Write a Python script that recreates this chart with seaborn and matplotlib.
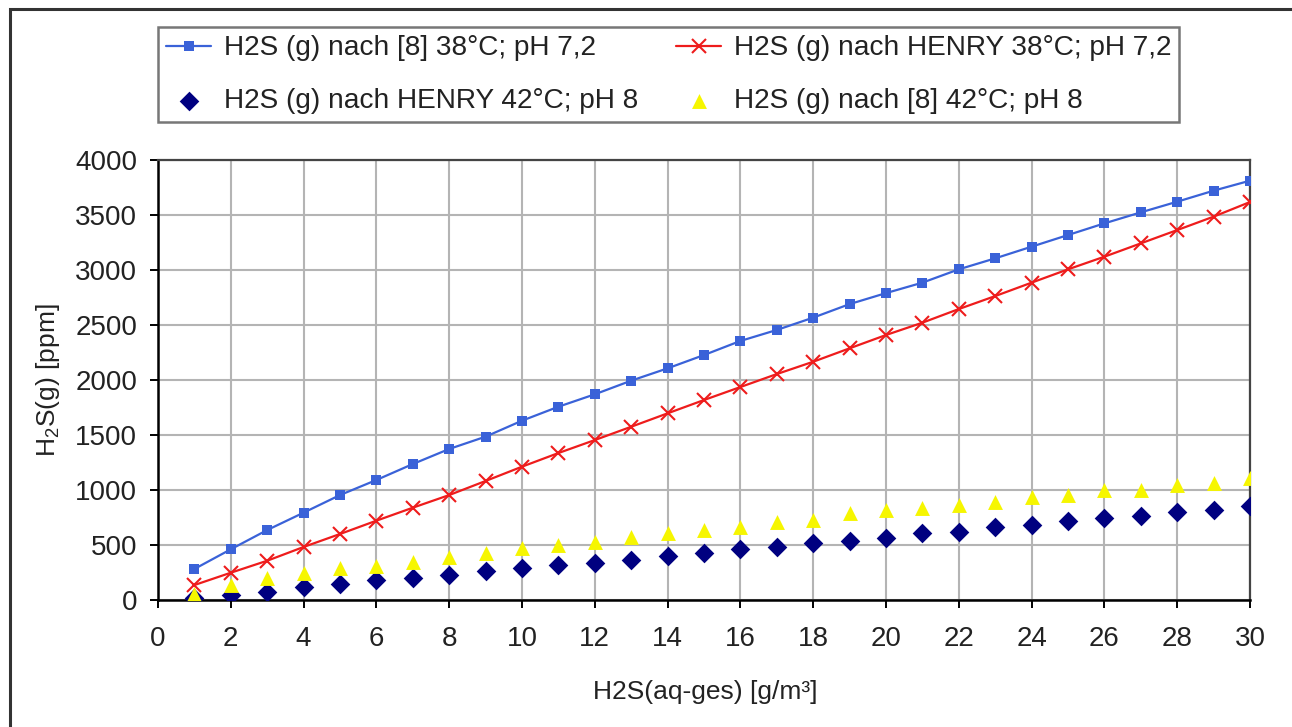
import matplotlib
matplotlib.use('Agg')
import matplotlib.pyplot as plt
import numpy as np
import pandas as pd
import seaborn as sns
from matplotlib.patches import Rectangle

# H2S(aq-ges) [g/m³]
x_conc = list(range(1, 31))

# H2S (g) nach [8] 38°C; pH 7,2
lit_38 = [282, 461, 636, 794, 954, 1091, 1236, 1373, 1485, 1630,
          1757, 1870, 1994, 2106, 2227, 2355, 2455, 2567, 2690, 2790,
          2885, 3006, 3106, 3212, 3318, 3424, 3524, 3621, 3721, 3812]
# H2S (g) nach HENRY 38°C; pH 7,2
henry_38 = [136, 248, 357, 482, 600, 721, 839, 954, 1082, 1212,
            1336, 1454, 1575, 1697, 1818, 1936, 2054, 2166, 2288, 2409,
            2521, 2645, 2763, 2885, 3006, 3121, 3242, 3363, 3485, 3618]
# H2S (g) nach HENRY 42°C; pH 8
henry_42 = [20, 45, 75, 120, 150, 180, 200, 227, 267, 290,
            318, 340, 363, 400, 424, 460, 485, 515, 540, 560,
            606, 620, 660, 680, 720, 745, 763, 803, 818, 854]
# H2S (g) nach [8] 42°C; pH 8
lit_42 = [55, 140, 200, 245, 290, 310, 345, 390, 425, 470,
          500, 530, 575, 608, 636, 666, 712, 727, 790, 818,
          836, 863, 894, 939, 954, 1000, 1000, 1045, 1060, 1106]

labels = ['H2S (g) nach [8] 38°C; pH 7,2',
          'H2S (g) nach HENRY 38°C; pH 7,2',
          'H2S (g) nach HENRY 42°C; pH 8',
          'H2S (g) nach [8] 42°C; pH 8']

df = pd.DataFrame({'x': x_conc, 'lit_38': lit_38, 'henry_38': henry_38,
                   'henry_42': henry_42, 'lit_42': lit_42})

sns.set_theme(style='whitegrid')
plt.rcParams['font.family'] = ['Liberation Sans', 'DejaVu Sans']
plt.rcParams['mathtext.fontset'] = 'custom'
plt.rcParams['mathtext.rm'] = 'Liberation Sans'
plt.rcParams['mathtext.it'] = 'Liberation Sans:italic'

fig = plt.figure(figsize=(12.92, 7.27), dpi=100)
ax = fig.add_axes([158 / 1292, 1 - 600 / 727, 1092 / 1292, 440 / 727])

blue, red, navy, yellow = '#3a62d8', '#ee1c1c', '#000080', '#f6f600'

sns.lineplot(data=df, x='x', y='lit_38', color=blue, lw=1.6,
             marker='s', markersize=7, markeredgewidth=0, markeredgecolor=blue,
             label=labels[0], ax=ax, zorder=4)
sns.lineplot(data=df, x='x', y='henry_38', color=red, lw=1.6,
             marker='x', markersize=10, markeredgewidth=1.5, markeredgecolor=red,
             label=labels[1], ax=ax, zorder=4)
sns.scatterplot(data=df, x='x', y='henry_42', color=navy, marker='D',
                s=100, linewidth=0, label=labels[2], ax=ax, zorder=3)
sns.scatterplot(data=df, x='x', y='lit_42', color=yellow, marker='^',
                s=115, linewidth=0, label=labels[3], ax=ax, zorder=3)

ax.set_xlim(0, 30)
ax.set_ylim(0, 4000)
ax.set_xticks(np.arange(0, 31, 2))
ax.set_yticks(np.arange(0, 4001, 500))
ax.grid(True, color='#b4b4b4', lw=1.5)
ax.set_facecolor('white')

for side in ['left', 'bottom']:
    ax.spines[side].set_color('black')
    ax.spines[side].set_linewidth(1.8)
for side in ['top', 'right']:
    ax.spines[side].set_color('#444444')
    ax.spines[side].set_linewidth(1.6)

ax.tick_params(axis='both', direction='out', length=6, width=1.4,
               color='black', labelsize=20, labelcolor='#222222')
ax.tick_params(axis='x', pad=13, bottom=True)
ax.tick_params(axis='y', pad=9, left=True)

ax.set_xlabel('H2S(aq-ges) [g/m³]', fontsize=19, color='#222222')
ax.set_ylabel(r'H$_\mathregular{2}$S(g) [ppm]', fontsize=19, color='#222222')
ax.xaxis.set_label_coords(0.501, (600 - 680) / 440)
ax.yaxis.set_label_coords((62 - 158) / 1092, 0.5)

handles, _ = ax.get_legend_handles_labels()
ax.get_legend().remove()
order = [0, 2, 1, 3]
leg = fig.legend([handles[i] for i in order], [labels[i] for i in order],
                 ncol=2, loc='upper left',
                 bbox_to_anchor=(158 / 1292, 1 - 27 / 727),
                 fontsize=20.2, frameon=True, fancybox=False, borderaxespad=0,
                 handlelength=1.6, handletextpad=0.45, labelspacing=0.95,
                 borderpad=0.3, columnspacing=1.35)
leg.get_frame().set_edgecolor('#555555')
leg.get_frame().set_linewidth(1.8)
for t in leg.get_texts():
    t.set_color('#222222')

# outer chart frame
fig.patches.append(Rectangle((10 / 1292, -0.1), 1.2, 1.1 - 9 / 727,
                             transform=fig.transFigure, fill=False,
                             edgecolor='#333333', lw=2.2))

fig.savefig('out.png', dpi=100)
